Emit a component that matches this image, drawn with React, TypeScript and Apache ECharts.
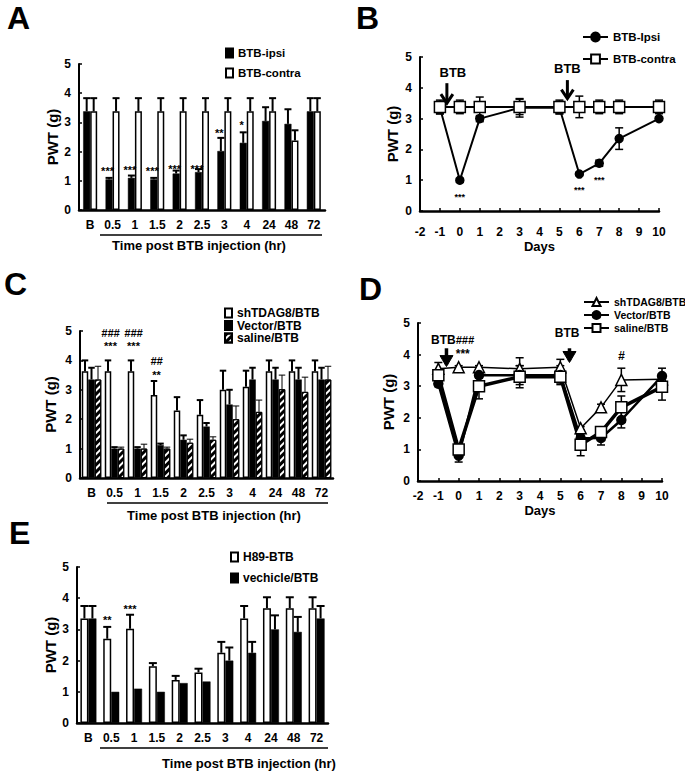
import React, { useEffect, useRef } from 'react';
import * as echarts from 'echarts';

const FONT = "'Liberation Sans', Arial, Helvetica, sans-serif";

// ---------- shared ----------
const hourCats = ['B', '0.5', '1', '1.5', '2', '2.5', '3', '4', '24', '48', '72'];
const dayMin = -2;
const dayMax = 10;
const pwtTicks = { min: 0, max: 5, interval: 1 };

// ---------- Panel A ----------
const aIpsi = [3.38, 1.05, 1.1, 1.05, 1.25, 1.3, 2.02, 2.3, 3.05, 2.95, 3.38];
const aIpsiErr = [0.45, 0.05, 0.08, 0.05, 0.1, 0.1, 0.45, 0.36, 0.47, 0.5, 0.45];
const aContra = [3.38, 3.38, 3.38, 3.38, 3.38, 3.38, 3.38, 3.38, 3.38, 2.38, 3.38];
const aContraErr = [0.45, 0.45, 0.45, 0.45, 0.45, 0.45, 0.45, 0.45, 0.45, 0.35, 0.45];
const aStarCats = ['0.5', '1', '1.5', '2', '2.5', '3', '4'];
const aStarY = [1.34, 1.38, 1.34, 1.4, 1.42, 2.64, 2.91];
const aStarText = ['***', '***', '***', '***', '***', '**', '*'];

// ---------- Panel B ----------
const bDays = [-1, 0, 1, 3, 5, 6, 7, 8, 10];
const bIpsi = [3.35, 1.0, 3.0, 3.35, 3.35, 1.2, 1.55, 2.35, 3.0];
const bIpsiErr = [0.2, 0.05, 0.1, 0.3, 0.2, 0.05, 0.1, 0.35, 0.05];
const bContra = [3.38, 3.38, 3.38, 3.38, 3.38, 3.38, 3.38, 3.38, 3.38];
const bContraErr = [0.22, 0.22, 0.32, 0.25, 0.22, 0.35, 0.22, 0.22, 0.22];
const bStarX = [0, 6, 7];
const bStarY = [0.47, 0.67, 1.02];
const bArrowX = [-0.65, 5.4];
const bArrowTop = [4.15, 4.25];
const bArrowTip = [3.5, 3.65];
const bLabelX = [-0.35, 5.4];
const bLabelY = [4.5, 4.62];

// ---------- Panel C ----------
const cSh = [3.63, 3.63, 3.63, 2.82, 2.3, 2.15, 3.0, 3.1, 3.63, 3.63, 3.63];
const cShErr = [0.37, 0.37, 0.37, 0.48, 0.45, 0.5, 0.65, 0.55, 0.37, 0.37, 0.37];
const cVector = [3.35, 1.0, 1.0, 1.12, 1.3, 1.75, 2.5, 3.35, 3.35, 3.35, 3.35];
const cVectorErr = [0.4, 0.05, 0.05, 0.05, 0.15, 0.12, 0.5, 0.4, 0.4, 0.4, 0.4];
const cSaline = [3.35, 1.0, 1.0, 1.0, 1.2, 1.3, 2.0, 2.25, 3.02, 2.93, 3.35];
const cSalineErr = [0.45, 0.05, 0.15, 0.05, 0.12, 0.1, 0.45, 0.4, 0.48, 0.5, 0.45];
const cMarkCats = ['0.5', '0.5', '1', '1', '1.5', '1.5'];
const cMarkY = [4.93, 4.49, 4.93, 4.49, 3.98, 3.52];
const cMarkText = ['###', '***', '###', '***', '##', '**'];

// ---------- Panel D ----------
const dDays = [-1, 0, 1, 3, 5, 6, 7, 8, 10];
const dSh = [3.55, 3.6, 3.6, 3.55, 3.6, 1.67, 2.33, 3.2, 3.22];
const dShErr = [0.2, 0.05, 0.05, 0.35, 0.25, 0.05, 0.1, 0.37, 0.1];
const dVector = [3.08, 0.8, 3.35, 3.35, 3.35, 1.35, 1.36, 1.93, 3.32];
const dVectorErr = [0.1, 0.2, 0.1, 0.3, 0.3, 0.1, 0.22, 0.25, 0.25];
const dSaline = [3.35, 1.0, 3.0, 3.3, 3.3, 1.15, 1.55, 2.33, 2.98];
const dSalineErr = [0.15, 0.1, 0.4, 0.35, 0.2, 0.35, 0.1, 0.36, 0.42];
const dArrowX = [-0.6, 5.45];
const dArrowTop = [4.2, 4.2];
const dArrowTip = [3.62, 3.75];
const dMarkX = [-0.3, 0.2, 5.33, 8];
const dMarkY = [4.45, 4.03, 4.67, 3.95];
const dMarkText = ['BTB{h|###}', '***', 'BTB', '#'];

// ---------- Panel E ----------
const eH89 = [3.35, 2.7, 3.02, 1.82, 1.38, 1.62, 2.25, 3.35, 3.68, 3.68, 3.68];
const eH89Err = [0.4, 0.38, 0.45, 0.1, 0.13, 0.12, 0.35, 0.4, 0.35, 0.35, 0.35];
const eVeh = [3.35, 1.0, 1.1, 1.0, 1.28, 1.33, 2.0, 2.25, 3.0, 2.92, 3.35];
const eVehErr = [0.4, 0, 0, 0, 0, 0, 0.42, 0.35, 0.45, 0.48, 0.4];
const eStarCats = ['0.5', '1'];
const eStarY = [3.3, 3.65];
const eStarText = ['**', '***'];

// ---------- helpers ----------
const strip = (n: string) => n.split(':')[1];

function barErr(g: number, means: number[], errs: number[], idx: number, n: number, bw: number, lw: number) {
  return {
    type: 'custom', xAxisIndex: g, yAxisIndex: g, silent: true, z: 5,
    data: means.map((m, i) => [i, m, m + errs[i], errs[i]]),
    renderItem: (params: any, api: any) => {
      if (api.value(3) <= 0) return null;
      const c = api.coord([api.value(0), api.value(1)]);
      const t = api.coord([api.value(0), api.value(2)]);
      const x = c[0] + (idx - (n - 1) / 2) * bw;
      return {
        type: 'group',
        children: [
          { type: 'line', shape: { x1: x, y1: c[1], x2: x, y2: t[1] }, style: { stroke: '#000', lineWidth: lw } },
          { type: 'line', shape: { x1: x - bw / 2, y1: t[1], x2: x + bw / 2, y2: t[1] }, style: { stroke: '#000', lineWidth: lw } },
        ],
      };
    },
  };
}

function lineErr(g: number, xs: number[], means: number[], errs: number[], capW: number, lw: number) {
  return {
    type: 'custom', xAxisIndex: g, yAxisIndex: g, silent: true, z: 1,
    data: xs.map((x, i) => [x, means[i] - errs[i], means[i] + errs[i]]),
    renderItem: (params: any, api: any) => {
      const lo = api.coord([api.value(0), api.value(1)]);
      const hi = api.coord([api.value(0), api.value(2)]);
      const x = lo[0];
      const st = { stroke: '#000', lineWidth: lw };
      return {
        type: 'group',
        children: [
          { type: 'line', shape: { x1: x, y1: lo[1], x2: x, y2: hi[1] }, style: st },
          { type: 'line', shape: { x1: x - capW / 2, y1: lo[1], x2: x + capW / 2, y2: lo[1] }, style: st },
          { type: 'line', shape: { x1: x - capW / 2, y1: hi[1], x2: x + capW / 2, y2: hi[1] }, style: st },
        ],
      };
    },
  };
}

function textMarks(g: number, xs: number[], ys: number[], texts: string[], size: number, dx: number, italicHash = false) {
  return {
    type: 'custom', xAxisIndex: g, yAxisIndex: g, silent: true, z: 10,
    data: xs.map((x, i) => [x, ys[i]]),
    renderItem: (params: any, api: any) => {
      const p = api.coord([api.value(0), api.value(1)]);
      const t = texts[params.dataIndex];
      const isHash = t.indexOf('#') === 0;
      return {
        type: 'text', x: p[0] + dx, y: p[1],
        style: {
          text: t, fill: '#000', fontFamily: FONT, fontSize: size, fontWeight: 'bold',
          fontStyle: italicHash && isHash ? 'italic' : 'normal',
          align: 'center', verticalAlign: 'middle',
          rich: { h: { fontSize: 11, fontStyle: 'italic', fontWeight: 'bold', fontFamily: FONT, fill: '#000' } },
        },
      };
    },
  };
}

function arrows(g: number, xs: number[], tops: number[], tips: number[], lw: number, hw: number, hh: number, filled: boolean) {
  return {
    type: 'custom', xAxisIndex: g, yAxisIndex: g, silent: true, z: 10,
    data: xs.map((x, i) => [x, tops[i], tips[i]]),
    renderItem: (params: any, api: any) => {
      const t = api.coord([api.value(0), api.value(1)]);
      const b = api.coord([api.value(0), api.value(2)]);
      const head = filled
        ? { type: 'polygon', shape: { points: [[b[0] - hw / 2, b[1] - hh], [b[0] + hw / 2, b[1] - hh], [b[0], b[1]]] }, style: { fill: '#000', stroke: '#000', lineWidth: 1, lineJoin: 'round' } }
        : { type: 'polyline', shape: { points: [[b[0] - hw / 2, b[1] - hh], [b[0], b[1]], [b[0] + hw / 2, b[1] - hh]] }, style: { stroke: '#000', lineWidth: lw, fill: 'none' } };
      return {
        type: 'group',
        children: [
          { type: 'line', shape: { x1: t[0], y1: t[1], x2: b[0], y2: b[1] - 2 }, style: { stroke: '#000', lineWidth: lw } },
          head,
        ],
      };
    },
  };
}

const catIdx = (cats: string[]) => cats.map((c) => hourCats.indexOf(c));

function yAx(g: number, gap: number) {
  return {
    type: 'value', gridIndex: g, ...pwtTicks,
    axisLine: { show: true, onZero: false, lineStyle: { color: '#000', width: 2 } },
    axisTick: { show: true, inside: true, length: 3, lineStyle: { color: '#000', width: 1.5 } },
    axisLabel: { color: '#000', fontFamily: FONT, fontWeight: 'bold', fontSize: 12, margin: 8 },
    splitLine: { show: false },
    name: 'PWT (g)', nameLocation: 'middle', nameGap: gap, nameRotate: 90,
    nameTextStyle: { color: '#000', fontFamily: FONT, fontWeight: 'bold', fontSize: 15 },
  };
}

function xCat(g: number) {
  return {
    type: 'category', gridIndex: g, data: hourCats,
    axisLine: { show: true, onZero: false, lineStyle: { color: '#000', width: 2.5 } },
    axisTick: { show: false },
    axisLabel: { color: '#000', fontFamily: FONT, fontWeight: 'bold', fontSize: 12, margin: 9, interval: 0 },
    splitLine: { show: false },
  };
}

function xDays(g: number, margin: number, gap: number) {
  return {
    type: 'value', gridIndex: g, min: dayMin, max: dayMax, interval: 1,
    axisLine: { show: true, onZero: false, lineStyle: { color: '#000', width: 2.5 } },
    axisTick: { show: true, inside: true, length: 3, lineStyle: { color: '#000', width: 1.5 } },
    axisLabel: { color: '#000', fontFamily: FONT, fontWeight: 'bold', fontSize: 12, margin },
    splitLine: { show: false },
    name: 'Days', nameLocation: 'middle', nameGap: gap,
    nameTextStyle: { color: '#000', fontFamily: FONT, fontWeight: 'bold', fontSize: 13 },
  };
}

const whiteBar = { color: '#fff', borderColor: '#000', borderWidth: 1.5 };
const blackBar = { color: '#000', borderColor: '#000', borderWidth: 0.5 };
const hatchBar = {
  color: '#fff', borderColor: '#000', borderWidth: 1,
  decal: { symbol: 'rect', symbolSize: 1, color: '#000', backgroundColor: '#fff', dashArrayX: [1, 0], dashArrayY: [2.5, 2], rotation: -Math.PI / 4 },
};

function bar(name: string, g: number, data: number[], style: any, bw: number) {
  return { type: 'bar', name, xAxisIndex: g, yAxisIndex: g, data, barWidth: bw, barGap: '0%', itemStyle: style, z: 3 };
}

function line(name: string, g: number, xs: number[], ys: number[], symbol: string, size: number, fill: string, lw: number) {
  return {
    type: 'line', name, xAxisIndex: g, yAxisIndex: g, data: xs.map((x, i) => [x, ys[i]]),
    symbol, symbolSize: size, showSymbol: true,
    lineStyle: { color: '#000', width: lw },
    itemStyle: { color: fill, borderColor: '#000', borderWidth: 1.5 },
    z: 3,
  };
}

function legendOf(names: string[], left: number, top: number, gap: number, iw: number, ih: number, fs: number, icon?: string) {
  return {
    data: names, orient: 'vertical', left, top, itemGap: gap, itemWidth: iw, itemHeight: ih, padding: 0,
    selectedMode: false, formatter: strip, ...(icon ? { icon } : {}),
    textStyle: { color: '#000', fontFamily: FONT, fontWeight: 'bold', fontSize: fs, lineHeight: 12 },
  };
}

function titleText(text: string, cx: number, cy: number) {
  return { type: 'text', x: cx, y: cy, style: { text, fill: '#000', fontFamily: FONT, fontWeight: 'bold', fontSize: 13, align: 'center', verticalAlign: 'middle' } };
}
function underline(x1: number, x2: number, y: number) {
  return { type: 'line', shape: { x1, y1: y, x2, y2: y }, style: { stroke: '#000', lineWidth: 1.5 } };
}
function letter(text: string, x: number, y: number) {
  return { type: 'text', x, y, style: { text, fill: '#000', fontFamily: FONT, fontWeight: 'bold', fontSize: 32, align: 'left', verticalAlign: 'middle' } };
}

function buildOption() {
  return {
    animation: false,
    backgroundColor: '#fff',
    grid: [
      { left: 79, top: 64, width: 246, height: 146 },
      { left: 420, top: 57, width: 239, height: 154 },
      { left: 80, top: 331, width: 253, height: 147 },
      { left: 418, top: 323, width: 244, height: 158 },
      { left: 77, top: 567, width: 251, height: 156 },
    ],
    xAxis: [xCat(0), xDays(1, 15, 29), xCat(2), xDays(3, 9, 23), xCat(4)],
    yAxis: [yAx(0, 19.5), yAx(1, 20.5), yAx(2, 22.5), yAx(3, 22.5), yAx(4, 19.5)],
    legend: [
      legendOf(['A:BTB-ipsi', 'A:BTB-contra'], 225, 47, 8, 7, 9, 11.5, 'rect'),
      legendOf(['B:BTB-Ipsi', 'B:BTB-contra'], 582, 31, 10, 25, 11, 11.5),
      legendOf(['C:shTDAG8/BTB', 'C:Vector/BTB', 'C:saline/BTB'], 224, 307, 0.5, 7, 9, 12, 'rect'),
      legendOf(['D:shTDAG8/BTB', 'D:Vector/BTB', 'D:saline/BTB'], 583, 296, 1, 25, 10, 10.5),
      legendOf(['E:H89-BTB', 'E:vechicle/BTB'], 230, 551, 9, 7, 9, 12, 'rect'),
    ],
    series: [
      // A
      bar('A:BTB-ipsi', 0, aIpsi, blackBar, 7),
      bar('A:BTB-contra', 0, aContra, whiteBar, 7),
      barErr(0, aIpsi, aIpsiErr, 0, 2, 7, 2),
      barErr(0, aContra, aContraErr, 1, 2, 7, 2),
      textMarks(0, catIdx(aStarCats), aStarY, aStarText, 11, -5),
      // B
      lineErr(1, bDays, bIpsi, bIpsiErr, 8, 1.5),
      lineErr(1, bDays, bContra, bContraErr, 8, 1.5),
      line('B:BTB-Ipsi', 1, bDays, bIpsi, 'circle', 8, '#000', 2),
      line('B:BTB-contra', 1, bDays, bContra, 'rect', 11, '#fff', 2),
      textMarks(1, bStarX, bStarY, ['***', '***', '***'], 9, 0),
      textMarks(1, bLabelX, bLabelY, ['BTB', 'BTB'], 13, 0),
      arrows(1, bArrowX, bArrowTop, bArrowTip, 3, 12, 9, false),
      // C
      bar('C:shTDAG8/BTB', 2, cSh, whiteBar, 6.5),
      bar('C:Vector/BTB', 2, cVector, blackBar, 6.5),
      bar('C:saline/BTB', 2, cSaline, hatchBar, 6.5),
      barErr(2, cSh, cShErr, 0, 3, 6.5, 2),
      barErr(2, cVector, cVectorErr, 1, 3, 6.5, 2),
      barErr(2, cSaline, cSalineErr, 2, 3, 6.5, 1),
      textMarks(2, catIdx(cMarkCats), cMarkY, cMarkText, 11, -4, true),
      // D
      lineErr(3, dDays, dSh, dShErr, 8, 1.5),
      lineErr(3, dDays, dVector, dVectorErr, 8, 1.5),
      lineErr(3, dDays, dSaline, dSalineErr, 8, 1.5),
      line('D:shTDAG8/BTB', 3, dDays, dSh, 'triangle', 11, '#fff', 1.5),
      line('D:Vector/BTB', 3, dDays, dVector, 'circle', 9, '#000', 2.5),
      line('D:saline/BTB', 3, dDays, dSaline, 'rect', 11, '#fff', 3.5),
      textMarks(3, dMarkX, dMarkY, dMarkText, 12, 0, true),
      arrows(3, dArrowX, dArrowTop, dArrowTip, 3.5, 13, 11, true),
      // E
      bar('E:H89-BTB', 4, eH89, whiteBar, 8),
      bar('E:vechicle/BTB', 4, eVeh, blackBar, 8),
      barErr(4, eH89, eH89Err, 0, 2, 8, 2),
      barErr(4, eVeh, eVehErr, 1, 2, 8, 2),
      textMarks(4, catIdx(eStarCats), eStarY, eStarText, 11, -4),
    ],
    graphic: [
      letter('A', 7, 18),
      letter('B', 356, 18),
      letter('C', 4, 284),
      letter('D', 359, 289),
      letter('E', 9, 533),
      underline(100, 322, 235),
      titleText('Time post BTB injection (hr)', 199, 245.5),
      underline(107, 328, 503),
      titleText('Time post BTB injection (hr)', 214, 515),
      underline(100, 328, 748),
      titleText('Time post BTB injection (hr)', 249, 763),
    ],
  };
}

export default function App() {
  const ref = useRef<HTMLDivElement>(null);
  useEffect(() => {
    const chart = echarts.init(ref.current as HTMLDivElement, null, { renderer: 'svg' });
    chart.setOption(buildOption() as any);
    return () => chart.dispose();
  }, []);
  return (
    <div
      ref={ref}
      style={{ position: 'absolute', left: 0, top: 0, width: 685, height: 775, background: '#fff' }}
    />
  );
}
